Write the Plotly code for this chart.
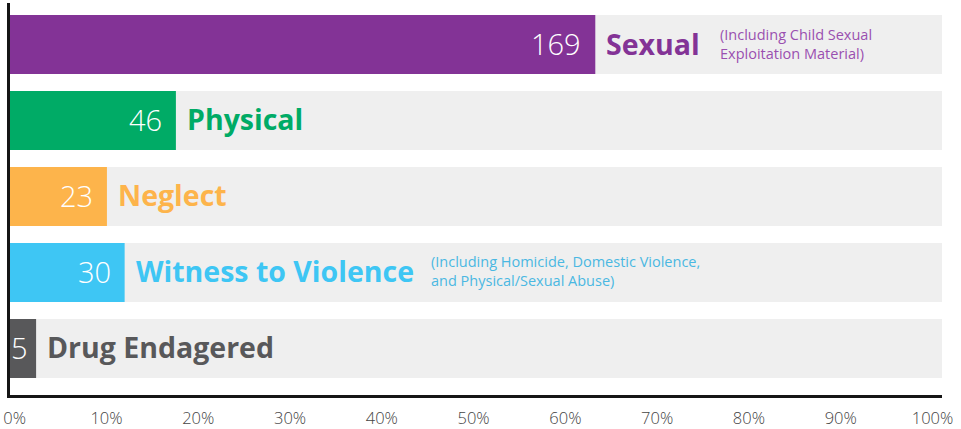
import plotly.graph_objects as go

# ---- data ----
categories = ["Sexual", "Physical", "Neglect", "Witness to Violence", "Drug Endagered"]
counts = [169, 46, 23, 30, 5]
percents = [62.8, 17.8, 10.4, 12.3, 2.8]
notes = ["(Including Child Sexual<br>Exploitation Material)", "", "",
         "(Including Homicide, Domestic Violence,<br>and Physical/Sexual Abuse)", ""]
tick_values = [0, 10, 20, 30, 40, 50, 60, 70, 80, 90, 100]
tick_labels = [f"{v}%" for v in tick_values]

# ---- styles ----
colors = ["#833396", "#00AB66", "#FDB44B", "#3EC6F4", "#58585A"]
note_colors = ["#9A4FB0", None, None, "#4AB8E2", None]
note_shift = {"Sexual": 125, "Witness to Violence": 306}
value_shift = {"Drug Endagered": -6}
track_color = "#EFEFEF"
BAR_W = 0.776
FONT = "Open Sans"

fig = go.Figure()
fig.add_trace(go.Bar(
    y=categories, x=[100] * len(categories), orientation="h",
    marker=dict(color=track_color, line=dict(width=0)), width=BAR_W,
    hoverinfo="skip", showlegend=False))
fig.add_trace(go.Bar(
    y=categories, x=percents, orientation="h",
    marker=dict(color=colors, line=dict(width=0)), width=BAR_W,
    customdata=counts, hovertemplate="%{y}: %{customdata}<extra></extra>",
    showlegend=False))
# invisible helper so the tick-label axis (x2) is drawn
fig.add_trace(go.Scatter(
    x=tick_values, y=[categories[-1]] * len(tick_values), xaxis="x2",
    mode="markers", marker=dict(opacity=0, size=1), hoverinfo="skip",
    showlegend=False))

annotations = []
for i, (cat, cnt, pct) in enumerate(zip(categories, counts, percents)):
    annotations.append(dict(
        x=pct, y=cat, text=str(cnt), showarrow=False, xanchor="right", yanchor="middle",
        xshift=value_shift.get(cat, -12), yshift=1,
        font=dict(family=FONT, size=29, color="white", weight=300)))
    annotations.append(dict(
        x=pct, y=cat, text=cat, showarrow=False, xanchor="left", yanchor="middle",
        xshift=9, yshift=1,
        font=dict(family=FONT, size=28.5, color=colors[i], weight=700)))
    if notes[i]:
        annotations.append(dict(
            x=pct, y=cat, text=notes[i], showarrow=False, xanchor="left", yanchor="middle",
            align="left", xshift=note_shift[cat] - 2, yshift=1,
            font=dict(family=FONT, size=14.5, color=note_colors[i], weight=400)))

fig.update_layout(
    width=961, height=429,
    margin=dict(l=10, r=19, t=3, b=34, autoexpand=False),
    barmode="overlay",
    paper_bgcolor="white", plot_bgcolor="white",
    annotations=annotations,
    xaxis=dict(range=[0, 100], showticklabels=False, automargin=False,
               showgrid=False, zeroline=False, showline=True, linecolor="#151515",
               linewidth=3, ticks="", fixedrange=True),
    # tick labels of the picture sit on a slightly narrower scale than the bars
    xaxis2=dict(overlaying="x", anchor="y", side="bottom", range=[-0.512, 101.035],
                tickvals=tick_values, ticktext=tick_labels, automargin=False,
                showgrid=False, zeroline=False, showline=False, ticks="",
                ticklabelstandoff=11, ticklabeloverflow="allow", fixedrange=True,
                tickfont=dict(family=FONT, size=16.5, color="#444444", weight=300)),
    yaxis=dict(categoryorder="array", categoryarray=categories, automargin=False,
               range=[4.612, -0.546], showgrid=False, zeroline=False,
               showline=True, linecolor="#151515", linewidth=3,
               showticklabels=False, ticks="", fixedrange=True),
)

fig.write_html("out.html", config={"displayModeBar": False},
               post_script="document.body.style.margin='0';document.body.style.padding='0';")
